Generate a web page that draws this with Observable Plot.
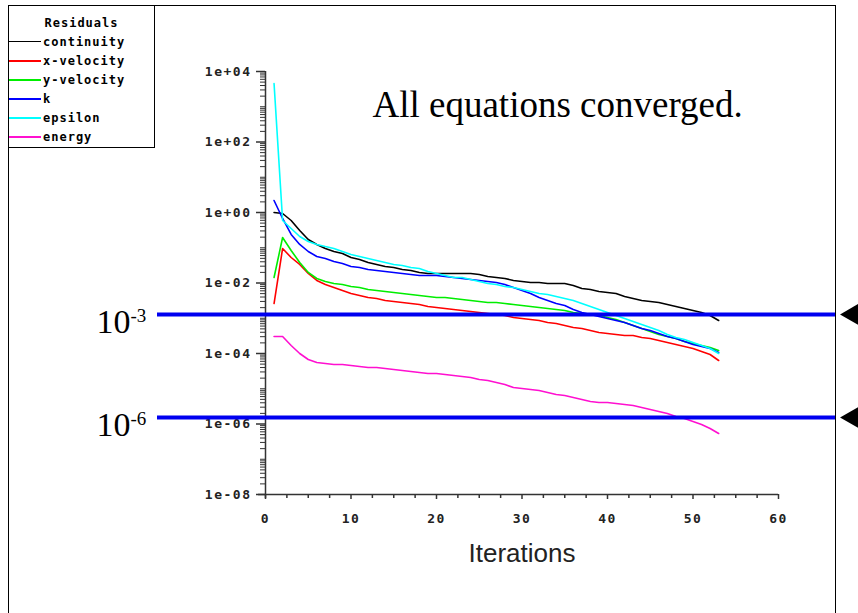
<!DOCTYPE html>
<html><head><meta charset="utf-8">
<script src="https://cdn.jsdelivr.net/npm/d3@7"></script>
<script src="https://cdn.jsdelivr.net/npm/@observablehq/plot@0.6"></script>
<style>
html,body{margin:0;padding:0;background:#fff;}
#wrap{position:relative;width:858px;height:613px;overflow:hidden;background:#fff;}
#wrap svg{position:absolute;left:0;top:0;}
#frame{position:absolute;left:8px;top:5px;width:828px;height:640px;border-left:1px solid #000;border-top:1px solid #000;border-right:1px solid #000;box-sizing:border-box;}
#legend{position:absolute;left:8px;top:5px;width:147px;height:143px;border:1px solid #000;box-sizing:border-box;background:#fff;font-family:"DejaVu Sans Mono",monospace;font-weight:bold;font-size:12px;letter-spacing:1px;color:#000;}
#legend .title{position:absolute;left:0;right:0;top:10px;line-height:14px;text-align:center;}
#legend .row{position:absolute;left:0;height:19px;display:flex;align-items:center;}
#legend .sw{display:inline-block;width:32px;height:2px;margin-right:2px;}
#wrap svg g[aria-description="ticklabel"] text{letter-spacing:1.5px;}
</style>
</head><body>
<div id="wrap"><div id="frame"></div></div>
<script>
// ---- data ----
const iterations = [1,2,3,4,5,6,7,8,9,10,11,12,13,14,15,16,17,18,19,20,21,22,23,24,25,26,27,28,29,30,31,32,33,34,35,36,37,38,39,40,41,42,43,44,45,46,47,48,49,50,51,52,53];
const continuity = [1.0,0.937,0.593,0.309,0.171,0.124,0.0953,0.0783,0.0687,0.0529,0.0464,0.0382,0.0335,0.0294,0.0275,0.0242,0.0226,0.0199,0.0186,0.0186,0.0186,0.0186,0.0186,0.0186,0.0174,0.0153,0.0143,0.0134,0.0118,0.0110,0.0103,0.0103,0.00968,0.00968,0.00968,0.00849,0.00698,0.00654,0.00574,0.00538,0.00504,0.00414,0.00363,0.00319,0.00299,0.00280,0.00245,0.00216,0.00189,0.00166,0.00146,0.00120,0.000864];
const xVelocity = [0.00262,0.0953,0.0529,0.0335,0.0186,0.0118,0.00906,0.00745,0.00613,0.00504,0.00442,0.00388,0.00363,0.00319,0.00299,0.00280,0.00262,0.00245,0.00216,0.00202,0.00189,0.00177,0.00166,0.00155,0.00146,0.00136,0.00128,0.00120,0.00105,0.000984,0.000922,0.000864,0.000757,0.000710,0.000623,0.000546,0.000512,0.000449,0.000394,0.000369,0.000346,0.000324,0.000324,0.000284,0.000266,0.000234,0.000205,0.000180,0.000158,0.000139,0.000114,0.0000937,0.0000633];
const yVelocity = [0.0143,0.195,0.0835,0.0382,0.0199,0.0134,0.0110,0.00968,0.00906,0.00796,0.00745,0.00654,0.00613,0.00574,0.00538,0.00504,0.00472,0.00442,0.00414,0.00388,0.00388,0.00363,0.00340,0.00319,0.00299,0.00280,0.00280,0.00262,0.00245,0.00230,0.00216,0.00202,0.00189,0.00177,0.00166,0.00146,0.00136,0.00128,0.00120,0.00105,0.000922,0.000757,0.000623,0.000512,0.000421,0.000346,0.000304,0.000266,0.000219,0.000192,0.000169,0.000148,0.000122];
const kResid = [2.19,0.676,0.238,0.124,0.0783,0.0565,0.0496,0.0407,0.0358,0.0294,0.0275,0.0242,0.0226,0.0212,0.0199,0.0186,0.0174,0.0163,0.0163,0.0163,0.0153,0.0143,0.0134,0.0126,0.0118,0.0110,0.0103,0.00906,0.00745,0.00613,0.00504,0.00388,0.00319,0.00262,0.00230,0.00177,0.00146,0.00128,0.00112,0.000984,0.000864,0.000757,0.000623,0.000512,0.000449,0.000369,0.000304,0.000266,0.000219,0.000180,0.000158,0.000139,0.000107];
const epsilon = [4570,0.593,0.352,0.209,0.150,0.124,0.108,0.0953,0.0783,0.0644,0.0565,0.0496,0.0435,0.0382,0.0335,0.0314,0.0275,0.0258,0.0212,0.0186,0.0163,0.0143,0.0143,0.0126,0.0110,0.00968,0.00906,0.00796,0.00745,0.00654,0.00574,0.00504,0.00472,0.00414,0.00363,0.00319,0.00262,0.00216,0.00177,0.00146,0.00120,0.000984,0.000809,0.000665,0.000546,0.000449,0.000346,0.000284,0.000250,0.000205,0.000169,0.000139,0.000100];
const energy = [3.04e-4,3.04e-4,1.69e-4,1.00e-4,6.76e-5,5.56e-5,5.20e-5,4.88e-5,4.88e-5,4.57e-5,4.28e-5,4.01e-5,4.01e-5,3.75e-5,3.52e-5,3.30e-5,3.09e-5,2.89e-5,2.71e-5,2.71e-5,2.54e-5,2.38e-5,2.23e-5,2.09e-5,1.83e-5,1.71e-5,1.50e-5,1.32e-5,1.08e-5,1.02e-5,9.52e-6,8.92e-6,7.83e-6,6.87e-6,6.44e-6,5.65e-6,4.96e-6,4.35e-6,4.07e-6,4.07e-6,3.82e-6,3.58e-6,3.35e-6,2.94e-6,2.58e-6,2.26e-6,1.99e-6,1.63e-6,1.43e-6,1.18e-6,9.68e-7,7.45e-7,5.38e-7];

const seriesNames = ["continuity","x-velocity","y-velocity","k","epsilon","energy"];
const seriesColors = ["#000000","#ff0000","#00ee00","#0000ff","#00ffff","#ff10d0"];
const seriesValues = [continuity,xVelocity,yVelocity,kResid,epsilon,energy];

const legendTitle = "Residuals";
const xLabel = "Iterations";
const caption = "All equations converged.";
const xDomain = [0, 60];
const yDomain = [1e-8, 1e4];
const xTickValues = [0,10,20,30,40,50,60];
const xTickLabels = ["0","10","20","30","40","50","60"];
const yTickValues = [1e-8,1e-6,1e-4,1e-2,1e0,1e2,1e4];
const yTickLabels = ["1e-08","1e-06","1e-04","1e-02","1e+00","1e+02","1e+04"];
const levelValues = [1.28e-3, 1.53e-6];
const levelBase = ["10","10"];
const levelExp = ["-3","-6"];

// ---- build ----
const rows = [];
seriesNames.forEach((s, j) => iterations.forEach((it, i) => rows.push({series: s, iteration: it, residual: seriesValues[j][i]})));

const xMinor = d3.range(0, 60.001, 2.5).filter(v => !xTickValues.includes(v));
const yMinor = [];
for (let e = -8; e < 4; e++) for (let m = 1; m <= 9; m++) {
  const v = m * Math.pow(10, e);
  if (m === 1 && e % 2 === 0) continue;
  yMinor.push(v);
}

const tickFont = {fontFamily: "DejaVu Sans Mono", fontSize: 13, fontWeight: "bold", fill: "#222"};

const chart = Plot.plot({
  width: 858, height: 613,
  marginLeft: 157, marginRight: 23, marginTop: 71, marginBottom: 119,
  x: {domain: xDomain, range: [265, 778], axis: null},
  y: {type: "log", domain: yDomain, axis: null},
  color: {domain: seriesNames, range: seriesColors},
  style: {background: "transparent", overflow: "visible"},
  marks: [
    // axis lines
    Plot.ruleX([xDomain[0]], {y1: yDomain[0], y2: yDomain[1], insetTop: 4, stroke: "#333", strokeWidth: 1.5}),
    Plot.ruleY([yDomain[0]], {x1: xDomain[0], x2: xDomain[1], insetLeft: -7, stroke: "#333", strokeWidth: 1.5}),
    // y ticks
    Plot.ruleY(yTickValues, {y: d => d, x1: xDomain[0], x2: xDomain[0], insetLeft: -9, stroke: "#333", strokeWidth: 1.5}),
    Plot.ruleY(yMinor, {y: d => d, x1: xDomain[0], x2: xDomain[0], insetLeft: -5, stroke: "#333", strokeWidth: 1}),
    // x ticks
    Plot.ruleX(xTickValues, {x: d => d, y1: yDomain[0], y2: yDomain[0], insetBottom: -5, stroke: "#333", strokeWidth: 1.5}),
    Plot.ruleX(xMinor, {x: d => d, y1: yDomain[0], y2: yDomain[0], insetBottom: -4, stroke: "#333", strokeWidth: 1.5}),
    // tick labels
    Plot.text(yTickValues, {x: xDomain[0], y: d => d, text: (d, i) => yTickLabels[i], textAnchor: "end", dx: -14, ariaDescription: "ticklabel", ...tickFont}),
    Plot.text(xTickValues, {x: d => d, y: yDomain[0], text: (d, i) => xTickLabels[i], dy: 24, ariaDescription: "ticklabel", ...tickFont}),
    Plot.text([xLabel], {x: d3.mean(xDomain), y: yDomain[0], text: d => d, dy: 59, fontFamily: "Liberation Sans", fontSize: 26, fill: "#222"}),
    // residual lines
    Plot.line(rows, {x: "iteration", y: "residual", stroke: "series", z: "series", strokeWidth: 1.6}),
    // convergence level annotations
    Plot.ruleY(levelValues, {y: d => d, stroke: "#0000f0", strokeWidth: 4}),
    Plot.text(levelValues, {y: d => d, frameAnchor: "left", text: (d, i) => levelBase[i], textAnchor: "end", dx: -27, dy: 8, fontFamily: "Liberation Serif", fontSize: 34, fill: "#000"}),
    Plot.text(levelValues, {y: d => d, frameAnchor: "left", text: (d, i) => levelExp[i], textAnchor: "start", dx: -27, dy: 1, fontFamily: "Liberation Serif", fontSize: 19, fill: "#000"}),
    Plot.dot(levelValues, {y: d => d, frameAnchor: "right", symbol: "triangle", rotate: -90, r: 8, fill: "#000", stroke: null, dx: 17}),
    // caption
    Plot.text([caption], {frameAnchor: "top-left", text: d => d, textAnchor: "start", lineAnchor: "top", dx: 215, dy: 19, fontFamily: "Liberation Serif", fontSize: 37, fill: "#000"})
  ]
});

const wrap = document.getElementById("wrap");
wrap.appendChild(chart);

// legend
const legend = document.createElement("div");
legend.id = "legend";
const t = document.createElement("div");
t.className = "title";
t.textContent = legendTitle;
legend.appendChild(t);
seriesNames.forEach((s, i) => {
  const r = document.createElement("div");
  r.className = "row";
  r.style.top = (26 + 19 * i) + "px";
  const sw = document.createElement("span");
  sw.className = "sw";
  sw.style.background = seriesColors[i];
  if (i === 0) sw.style.height = "1.5px";
  const lab = document.createElement("span");
  lab.textContent = s;
  r.appendChild(sw);
  r.appendChild(lab);
  legend.appendChild(r);
});
wrap.appendChild(legend);
</script>
</body></html>
